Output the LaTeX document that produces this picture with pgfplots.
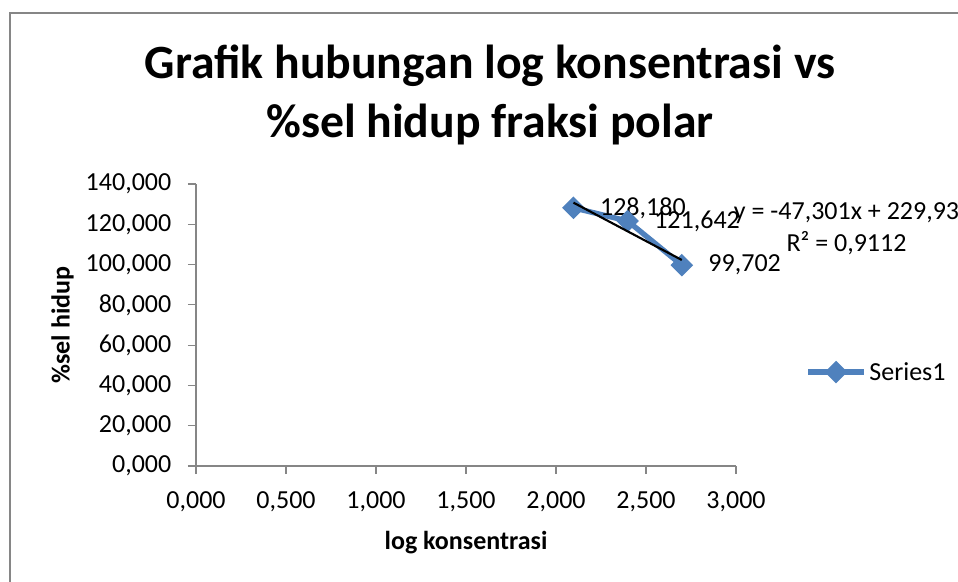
\documentclass[border=0pt]{standalone}
\usepackage{fontspec}
\setmainfont{Carlito}
\usepackage{pgfplots}
\pgfplotsset{compat=1.18}
\definecolor{sblue}{HTML}{4F81BD}
\definecolor{axgray}{HTML}{868686}
\newcommand{\fs}{\fontsize{19.5}{23.8}\selectfont}
\pgfplotsset{common/.style={
  at={(147pt,-349.5pt)}, anchor=south west,
  scale only axis, width=405pt, height=211.5pt,
  xmin=0, xmax=3, ymin=0, ymax=140, clip=false}}
\begin{document}
\begin{tikzpicture}
\useasboundingbox (0,0) rectangle (718.5pt,-436.5pt);
\draw[axgray, line width=1.1pt] (7.5pt,-437pt) -- (7.5pt,-9.75pt) -- (719pt,-9.75pt);
\node[anchor=base, inner sep=0pt, font=\fontsize{35.8}{42}\selectfont\bfseries] at (367.5pt,-58.5pt) {Grafik hubungan log konsentrasi vs};
\node[anchor=base, inner sep=0pt, font=\fontsize{35.8}{42}\selectfont\bfseries] at (367.5pt,-102.75pt) {\%sel hidup fraksi polar};
\begin{axis}[
  common,
  axis x line=bottom, axis y line=left,
  axis line style={axgray, line width=0.8pt, -},
  tick style={axgray, line width=0.8pt},
  tick align=outside, major tick length=6pt,
  xtick={0,0.5,...,3}, ytick={0,20,...,140},
  ticklabel style={font=\fs, black,
    /pgf/number format/fixed, /pgf/number format/fixed zerofill,
    /pgf/number format/precision=3, /pgf/number format/use comma,
    /pgf/number format/1000 sep={}, /pgf/number format/assume math mode=true},
  xticklabel style={yshift=-9.5pt},
  yticklabel style={xshift=-9pt},
  legend style={draw=none, fill=none, at={(1.128,0.333)}, anchor=west,
    inner sep=0pt, font=\fs, legend cell align=left},
  legend image code/.code={\draw[mark repeat=2, mark phase=2, #1] plot coordinates {(0pt,0pt) (21pt,0pt) (42pt,0pt)};},
]
\addplot[sblue, line width=4pt, mark=square*, mark size=4pt,
  mark options={rotate=45, draw=none, fill=sblue},
  nodes near coords, point meta=y,
  nodes near coords style={anchor=west, inner sep=0pt, xshift=18pt, font=\fs, text=black,
    /pgf/number format/fixed, /pgf/number format/fixed zerofill,
    /pgf/number format/precision=3, /pgf/number format/use comma,
    /pgf/number format/1000 sep={}, /pgf/number format/assume math mode=true}]
  coordinates {(2.0969,128.180) (2.3979,121.642) (2.6990,99.702)};
\addlegendentry{Series1}
\end{axis}
\begin{axis}[common, hide axis]
\addplot[black, line width=1.6pt] coordinates {(2.0969,130.744) (2.6990,102.266)};
\end{axis}
\node[align=center, inner sep=0pt, font=\fs] at (634.9pt,-171.75pt) {y = -47,301x + 229,93\\R² = 0,9112};
\node[inner sep=0pt, font=\fontsize{19.5}{23.8}\selectfont\bfseries] at (349.5pt,-407.25pt) {log konsentrasi};
\node[inner sep=0pt, rotate=90, font=\fontsize{19.5}{23.8}\selectfont\bfseries] at (47pt,-243.75pt) {\%sel hidup};
\end{tikzpicture}
\end{document}
